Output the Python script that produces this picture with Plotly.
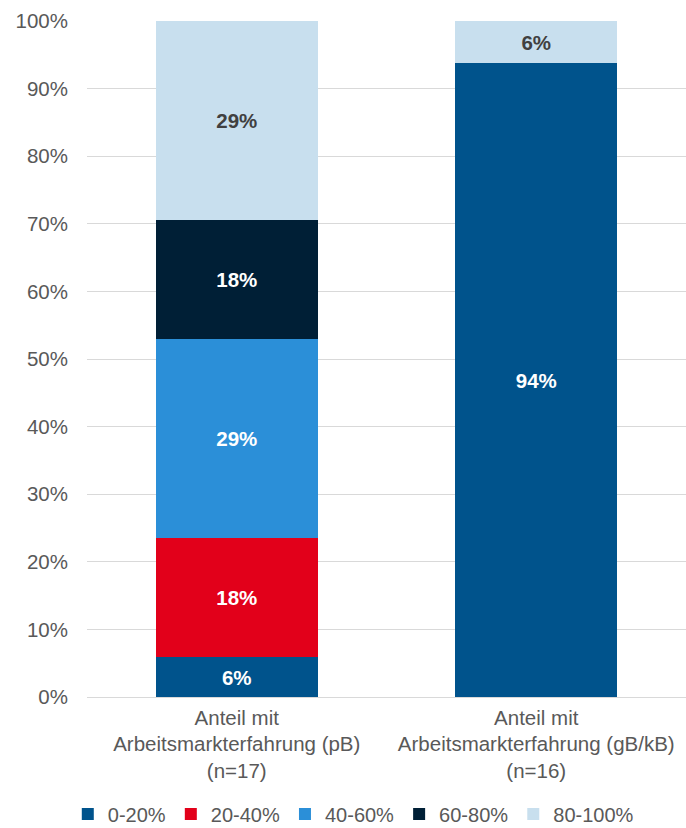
import plotly.graph_objects as go

# Share of respondents by band, each group counted out of its n
categories = [
    "Anteil mit<br>Arbeitsmarkterfahrung (pB)<br>(n=17)",
    "Anteil mit<br>Arbeitsmarkterfahrung (gB/kB)<br>(n=16)",
]
bands = ["0-20%", "20-40%", "40-60%", "60-80%", "80-100%"]
counts_pb = [1, 3, 5, 3, 5]      # n=17
counts_gbkb = [15, 0, 0, 0, 1]   # n=16
n_pb = 17
n_gbkb = 16

colors = ["#00538C", "#E2001A", "#2B8FD8", "#001F36", "#C8DFEE"]
text_colors = ["white", "white", "white", "white", "#404040"]

FONT = "Liberation Sans, Arial, Helvetica, sans-serif"
GREY = "#595959"

fig = go.Figure()
for i, band in enumerate(bands):
    vals = [counts_pb[i] / n_pb, counts_gbkb[i] / n_gbkb]
    labels = [f"{v:.0%}" if v > 0 else "" for v in vals]
    fig.add_trace(go.Bar(
        name=band,
        x=categories,
        y=vals,
        marker=dict(color=colors[i], line=dict(width=0)),
        text=labels,
        texttemplate="%{text}",
        textposition="inside",
        insidetextanchor="middle",
        textangle=0,
        textfont=dict(family=FONT, size=20.5, color=text_colors[i], weight="bold"),
        hoverinfo="skip",
    ))

fig.update_layout(
    barmode="stack",
    bargap=0.46,
    width=686,
    height=828,
    margin=dict(l=87, r=0, t=21, b=131, autoexpand=False),
    paper_bgcolor="white",
    plot_bgcolor="white",
    font=dict(family=FONT, size=20.5, color=GREY),
    uniformtext=dict(minsize=20, mode="show"),
    showlegend=True,
    legend=dict(
        orientation="h",
        traceorder="normal",
        xref="container", x=0.515, xanchor="center",
        yref="container", y=0.017, yanchor="middle",
        font=dict(family=FONT, size=20, color=GREY),
        itemwidth=30,
        itemclick=False,
    ),
    xaxis=dict(
        showgrid=False,
        showline=False,
        ticks="",
        automargin=False,
        ticklabelstandoff=6,
        tickfont=dict(family=FONT, size=20.5, color=GREY),
    ),
    yaxis=dict(
        range=[0, 1],
        dtick=0.1,
        tickformat=".0%",
        showgrid=True,
        gridcolor="#D9D9D9",
        gridwidth=1.3,
        zeroline=True,
        zerolinecolor="#D9D9D9",
        zerolinewidth=1.3,
        ticks="",
        automargin=False,
        ticklabelstandoff=18,
        tickfont=dict(family=FONT, size=20.5, color=GREY),
    ),
)

fig.write_html("out.html")
